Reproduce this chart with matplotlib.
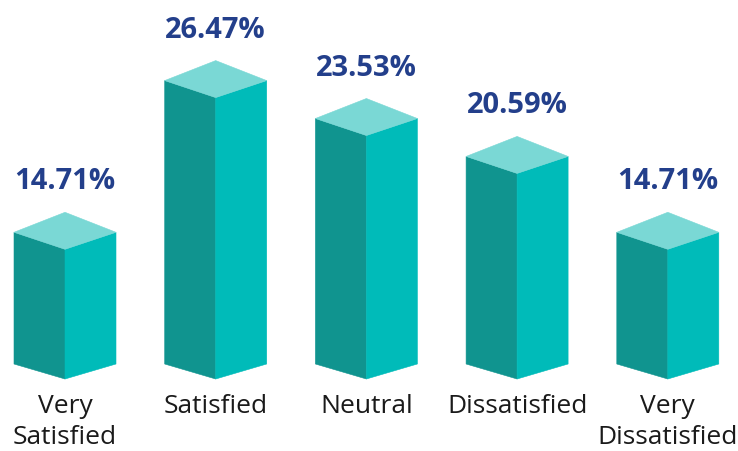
import matplotlib
matplotlib.use("Agg")
import matplotlib.pyplot as plt
from matplotlib.patches import Polygon

categories = ["Very\nSatisfied", "Satisfied", "Neutral", "Dissatisfied", "Very\nDissatisfied"]
values = [14.71, 26.47, 23.53, 20.59, 14.71]
labels = ["14.71%", "26.47%", "23.53%", "20.59%", "14.71%"]

plt.rcParams['font.family'] = ['Open Sans', 'DejaVu Sans']

W, H = 738, 451
fig = plt.figure(figsize=(W / 100, H / 100), dpi=100)
ax = fig.add_axes([0, 0, 1, 1])
ax.set_axis_off()

# scales (pixel geometry of the reference)
px_per_idx = 150.7
x0_px = 65.0
px_per_unit = 12.9
base_val = 4.5
base_px = 364.0

ax.set_xlim(-x0_px / px_per_idx, (W - x0_px) / px_per_idx)
ax.set_ylim(base_val - (H - base_px) / px_per_unit, base_val + base_px / px_per_unit)

half_w = 51 / px_per_idx
d_up = 20 / px_per_unit
d_down = 17 / px_per_unit
d_bot = 15 / px_per_unit

c_left = "#10948f"
c_right = "#00bbb9"
c_top = "#7ad8d5"
c_lab = "#233f8b"

for i, (v, lab, cat) in enumerate(zip(values, labels, categories)):
    c = i
    left = [(c - half_w, v), (c, v - d_down), (c, base_val - d_bot), (c - half_w, base_val)]
    right = [(c, v - d_down), (c + half_w, v), (c + half_w, base_val), (c, base_val - d_bot)]
    top = [(c - half_w, v), (c, v + d_up), (c + half_w, v), (c, v - d_down)]
    for pts, col in ((left, c_left), (right, c_right), (top, c_top)):
        ax.add_patch(Polygon(pts, closed=True, facecolor=col, edgecolor=col, lw=0.4))
    ax.text(c, v + d_up + 23 / px_per_unit, lab, ha='center', va='baseline',
            fontsize=21, fontweight='bold', color=c_lab)
    ax.text(c, base_val - 30 / px_per_unit, cat, ha='center', va='top',
            fontsize=19, color='#1a1a1a', linespacing=1.3)

fig.savefig("out.png", dpi=100)
